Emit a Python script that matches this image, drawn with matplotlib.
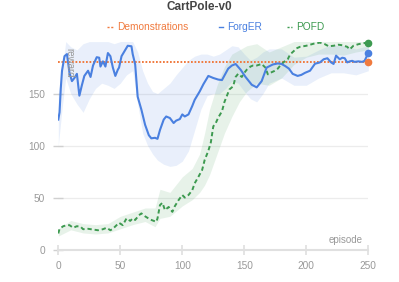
import matplotlib
matplotlib.use("Agg")
import matplotlib.pyplot as plt
from matplotlib.lines import Line2D

# ---------------- data ----------------
title = "CartPole-v0"
series_names = ["Demonstrations", "ForgER", "POFD"]
demo_level = 180

forger_x = [0, 1, 2, 3, 5, 7, 9, 11, 13, 15, 17, 19, 21, 24, 26, 28, 31, 33, 34, 36, 38, 40, 42, 44,
            46, 48, 49, 51, 54, 56, 59, 60, 62, 64, 67, 70, 73, 75, 78, 80, 82, 85, 87, 90, 93, 95,
            98, 100, 102, 105, 108, 110, 114, 117, 121, 125, 129, 132, 137, 140, 143, 147, 151, 156,
            160, 164, 168, 173, 177, 180, 183, 186, 189, 193, 196, 199, 203, 207, 211, 214, 217, 220,
            222, 224, 227, 229, 231, 233, 235, 237, 239, 242, 245, 247, 250]
forger_y = [125, 132, 155, 172, 186, 188, 170, 162, 165, 169, 148, 158, 167, 172, 166, 177, 185, 184.5,
            176, 181, 176, 189, 186, 175, 167, 173, 175, 186, 192, 196, 195.5, 188, 178, 147, 134.6,
            120, 110, 107, 107.5, 106.5, 115, 125, 128, 126.5, 121.7, 124, 125.5, 130, 128, 130, 138,
            144, 152, 159, 167, 165, 163.5, 163, 174, 177, 178.5, 173, 166, 158.5, 156, 162, 175, 178,
            179, 178.5, 176.5, 174, 169, 167, 168, 170, 172, 178.7, 180, 183, 184, 180, 178.5, 186.5,
            183, 184.5, 184, 180, 181, 181.5, 180.5, 181, 180.5, 181.5, 189]

forger_band_x = [0, 3, 6, 10, 15, 20, 25, 30, 35, 40, 45, 50, 55, 60, 64, 68, 72, 76, 80, 85, 90, 95,
                 100, 105, 110, 115, 120, 125, 130, 135, 140, 145, 150, 155, 160, 165, 170, 180, 190,
                 200, 210, 220, 230, 240, 250]
forger_lo = [100, 135, 165, 150, 140, 132, 145, 155, 160, 158, 155, 160, 168, 172, 140, 112, 100, 92,
             86, 82, 80, 81, 85, 95, 115, 135, 148, 150, 150, 155, 162, 160, 152, 145, 142, 150, 160,
             165, 158, 158, 165, 170, 170, 168, 172]
forger_hi = [150, 172, 200, 195, 192, 198, 200, 200, 200, 200, 198, 200, 202, 200, 190, 172, 160, 152,
             150, 155, 160, 168, 175, 182, 186, 188, 188, 186, 188, 192, 196, 195, 188, 182, 185, 190,
             193, 193, 185, 186, 192, 197, 196, 193, 196]

pofd_x = [0, 1, 4, 7, 9, 12, 15, 18, 20, 24, 28, 32, 36, 39, 42, 44, 47, 49, 52, 55, 58, 60, 62, 65,
          67, 70, 74, 79, 80, 82, 84, 86, 89, 92, 94, 97, 100, 102, 105, 108, 110, 113, 116, 118,
          121, 123, 125, 127, 129, 132, 134, 136, 138, 141, 143, 145, 148, 150, 152, 155, 157, 160,
          164, 167, 169, 171, 174, 177, 179, 182, 185, 187, 190, 192, 195, 200, 206, 211, 215, 218,
          222, 226, 229, 233, 235, 238, 242, 246, 250]
pofd_y = [15.5, 20, 22.5, 23.5, 23.5, 21, 22.5, 22, 19.6, 20, 19.3, 18.6, 19.6, 21, 18.6, 20, 23.5,
          25.7, 23.5, 30, 27.6, 30, 28.5, 33, 34.8, 32, 29, 26.7, 30, 42.8, 45, 38, 41, 36.3, 41.8,
          47.6, 52.5, 50, 52.5, 57, 63.8, 70, 76.6, 86, 95, 103, 118.5, 121.7, 127, 133, 142, 148,
          154, 157, 166, 169, 166, 170, 173, 176, 177, 177, 178.5, 175, 168.5, 170, 171.6, 174, 177,
          180.5, 183, 187.7, 191, 193.5, 195, 196, 198, 199, 197.5, 195.5, 196, 197, 196.5, 195,
          192.5, 196, 197.5, 198.5, 199]

pofd_band_x = [0, 10, 20, 30, 40, 50, 60, 70, 78, 82, 90, 100, 108, 114, 118, 122, 128, 134, 140, 146,
               152, 160, 170, 180, 190, 200, 210, 220, 230, 240, 250]
pofd_lo = [13, 19, 16, 15, 16, 20, 24, 27, 22, 30, 32, 42, 48, 55, 62, 72, 92, 112, 128, 142, 152,
           160, 158, 165, 178, 185, 188, 188, 187, 190, 192]
pofd_hi = [20, 28, 25, 24, 25, 32, 36, 40, 40, 58, 55, 70, 78, 92, 112, 135, 158, 176, 188, 192, 196,
           198, 190, 195, 200, 203, 205, 204, 203, 205, 205]

x_ticks = [0, 50, 100, 150, 200, 250]
y_ticks = [0, 50, 100, 150]

# ---------------- style ----------------
c_demo = "#f07a3e"
c_forger = "#4a80e0"
c_pofd = "#3d9a50"
grey_txt = "#999999"
plt.rcParams["font.family"] = ["Liberation Sans", "DejaVu Sans"]

W, H = 399, 282
fig = plt.figure(figsize=(W / 100, H / 100), dpi=100)
ax = fig.add_axes([58.3 / W, 1 - 249.6 / H, 310 / W, 208 / H])

ax.fill_between(forger_band_x, forger_lo, forger_hi, color=c_forger, alpha=0.12, lw=0, zorder=1)
ax.fill_between(pofd_band_x, pofd_lo, pofd_hi, color=c_pofd, alpha=0.12, lw=0, zorder=1)

ax.plot([0, 250], [demo_level, demo_level], color=c_demo, lw=1.4, dashes=(0.9, 0.9), zorder=3)
ax.plot(forger_x, forger_y, color=c_forger, lw=1.5, zorder=4, solid_joinstyle="round")
ax.plot(pofd_x, pofd_y, color=c_pofd, lw=1.4, dashes=(2.2, 1.5), zorder=3)

ax.plot([250], [demo_level], "o", color=c_demo, ms=4.5, zorder=5, clip_on=False)
ax.plot([forger_x[-1]], [forger_y[-1]], "o", color=c_forger, ms=4.5, zorder=5, clip_on=False)
ax.plot([pofd_x[-1]], [pofd_y[-1]], "o", color=c_pofd, ms=4.5, zorder=5, clip_on=False)

ax.set_xlim(0, 250)
ax.set_ylim(0, 200)
ax.set_xticks(x_ticks)
ax.set_yticks(y_ticks)
for s in ["top", "right", "left"]:
    ax.spines[s].set_visible(False)
ax.spines["bottom"].set_color("#e0e0e0")
ax.spines["bottom"].set_linewidth(1.5)
ax.grid(axis="y", color="#ececec", lw=0.9)
ax.set_axisbelow(True)
ax.tick_params(axis="x", direction="inout", length=7.7, width=1.1, color="#dddddd",
               labelsize=7.3, labelcolor=grey_txt, pad=4.6)
ax.tick_params(axis="y", direction="inout", length=7.2, width=1.0, color="#d0d0d0",
               labelsize=7.3, labelcolor=grey_txt, pad=6.0)

ax.text(0.036, 0.969, "reward", transform=ax.transAxes, rotation=-90, ha="center", va="top",
        fontsize=7, color=grey_txt, zorder=6)
ax.text(0.983, 0.02, "episode", transform=ax.transAxes, ha="right", va="bottom",
        fontsize=7, color=grey_txt, zorder=6)

fig.text(0.5, 1 - 7.5 / H, title, ha="center", va="center", fontsize=8.5,
         fontweight="bold", color="#444444")

# legend
ly = 1 - 27 / H
legend_items = [
    (107.3, 112.7, 116.7, series_names[0], c_demo, (0.9, 0.9)),
    (219.0, 223.3, 226.7, series_names[1], c_forger, None),
    (286.7, 292.0, 295.7, series_names[2], c_pofd, (2.2, 1.5)),
]
for x0, x1, xt, name, col, dash in legend_items:
    ln = Line2D([x0 / W, x1 / W], [ly, ly], transform=fig.transFigure, color=col, lw=1.0)
    if dash is not None:
        ln.set_dashes((1.5, 1.2))
    fig.add_artist(ln)
    fig.text(xt / W, ly, name, ha="left", va="center", fontsize=7.3, color=col)

fig.savefig("out.png", dpi=100)
